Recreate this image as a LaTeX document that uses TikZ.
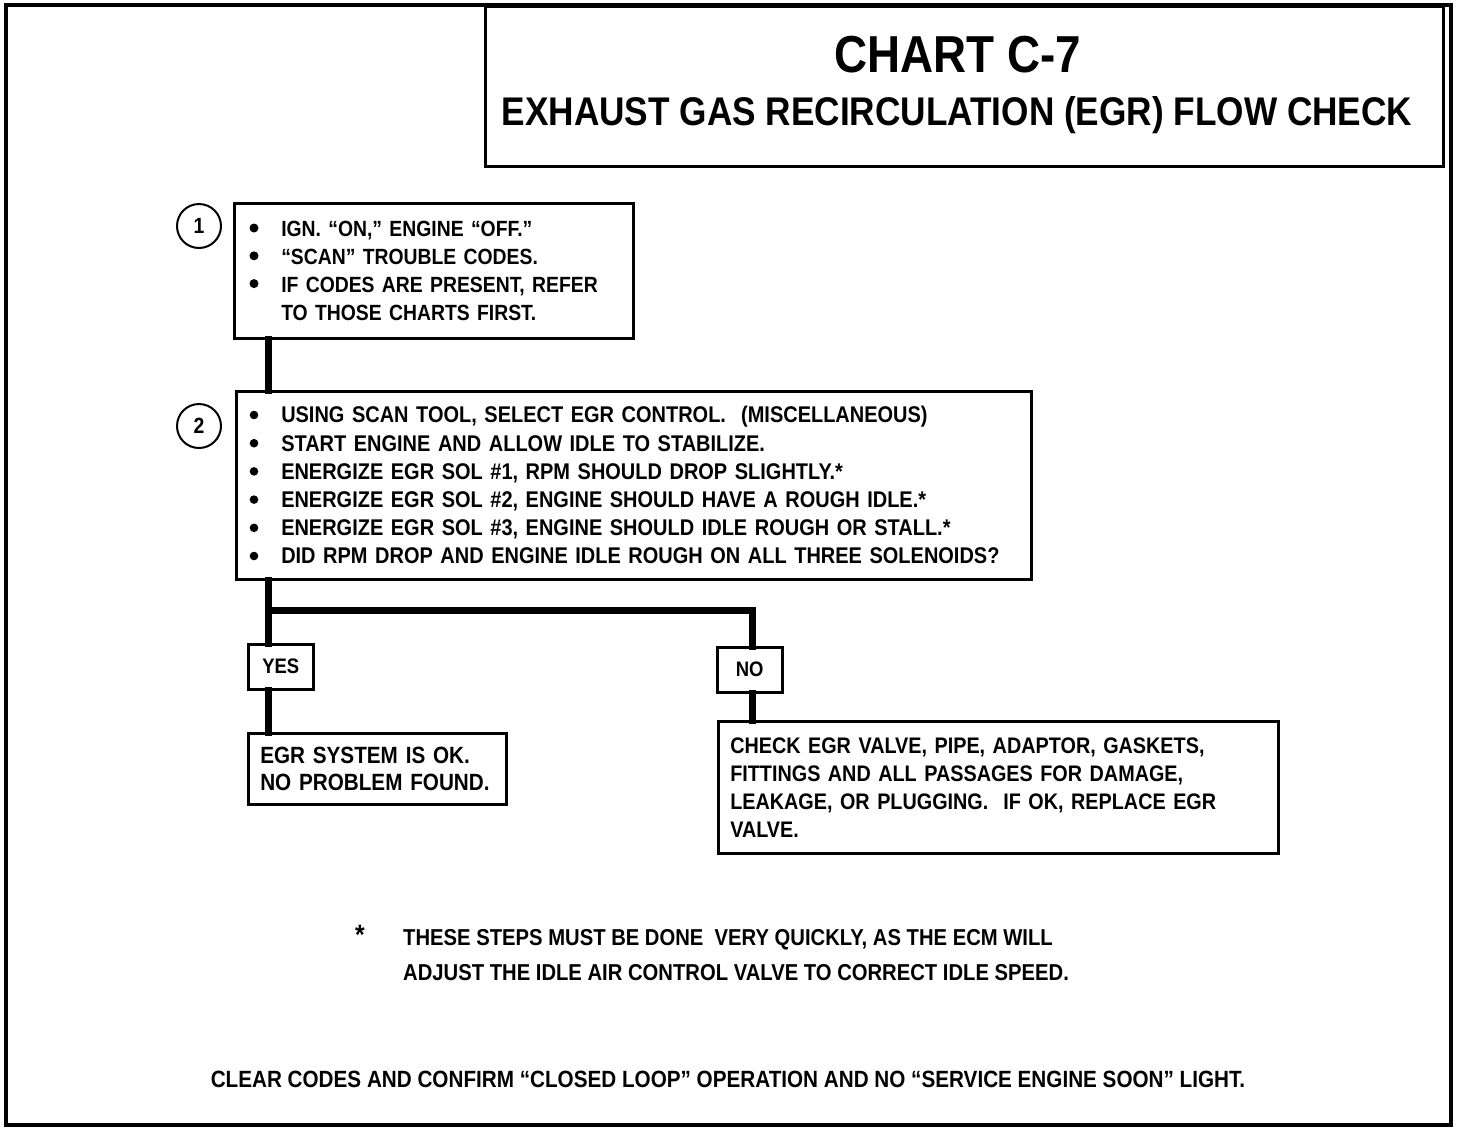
\documentclass[tikz,border=0pt]{standalone}
\usepackage{fontspec}
\setmainfont{Liberation Sans}[FakeStretch=0.88]
\begin{document}
\begin{tikzpicture}[x=1pt,y=-1pt,
  frame/.style={line width=4.5pt},
  tbox/.style={draw, line width=2.5pt},
  box/.style={draw, line width=2.5pt, anchor=north west, align=left, inner ysep=0pt,
    font=\bfseries\fontsize{22}{27.8}\selectfont},
  ans/.style={draw, line width=2.5pt, anchor=north west, minimum width=65pt, minimum height=45pt,
    inner sep=0pt, font=\bfseries\fontsize{21}{24}\selectfont},
  num/.style={draw, circle, line width=2pt, minimum size=44pt, inner sep=0pt,
    font=\bfseries\fontsize{22}{24}\selectfont},
  dot/.style={fill=black},
  conn/.style={line width=7pt, line join=miter, line cap=rect}]
\useasboundingbox (0,0) rectangle (1472,1130);
\newcommand{\bul}{\hspace*{32pt}}
\newcommand{\bulb}{\hspace*{31pt}}
% outer frame
\draw[frame] (6,5) rectangle (1451,1125);
% title box
\node[tbox, anchor=north west, minimum width=958pt, minimum height=160pt, inner sep=0pt] (title) at (484,5) {};
\node[font=\bfseries\fontsize{52}{56}\selectfont] (t1) at (958,55) {CHART C-7};
\node[font=\bfseries\fontsize{40}{44}\selectfont] (t2) at (957,115) {EXHAUST GAS RECIRCULATION (EGR) FLOW CHECK};
% step circles
\node[num] (n1) at (199,226) {1};
\node[num] (n2) at (199,426) {2};
% boxes
\node[box, minimum width=399pt, minimum height=135pt, text width=369pt, inner xsep=15pt] (b1) at (233,202)
 {\bul IGN. “ON,” ENGINE “OFF.”\\
  \bul “SCAN” TROUBLE CODES.\\
  \bul IF CODES ARE PRESENT, REFER\\
  \bul TO THOSE CHARTS FIRST.};
\node[box, minimum width=795pt, minimum height=188pt, text width=767pt, inner xsep=14pt,
  font=\bfseries\fontsize{22.7}{28.2}\selectfont] (b2) at (235,390)
 {\bulb USING SCAN TOOL, SELECT EGR CONTROL.\ \ (MISCELLANEOUS)\\
  \bulb START ENGINE AND ALLOW IDLE TO STABILIZE.\\
  \bulb ENERGIZE EGR SOL \#1, RPM SHOULD DROP SLIGHTLY.*\\
  \bulb ENERGIZE EGR SOL \#2, ENGINE SHOULD HAVE A ROUGH IDLE.*\\
  \bulb ENERGIZE EGR SOL \#3, ENGINE SHOULD IDLE ROUGH OR STALL.*\\
  \bulb DID RPM DROP AND ENGINE IDLE ROUGH ON ALL THREE SOLENOIDS?};
% bullets
\foreach \yy in {228,255.8,283.6} \fill[dot] (254,\yy) circle (4.5pt);
\foreach \yy in {415,443.2,471.4,499.6,527.8,556} \fill[dot] (254,\yy) circle (4.3pt);
\node[ans] (yes) at (247,643) {YES};
\node[ans] (no) at (716,646) {NO};
\node[box, minimum width=258pt, minimum height=71pt, text width=234pt, inner xsep=12pt,
  font=\bfseries\fontsize{23.5}{27}\selectfont] (egr) at (247,732)
 {EGR SYSTEM IS OK.\\ NO PROBLEM FOUND.};
\node[box, minimum width=560pt, minimum height=132pt, text width=536pt, inner xsep=12pt,
  font=\bfseries\fontsize{22.5}{28}\selectfont] (chk) at (717,720)
 {CHECK EGR VALVE, PIPE, ADAPTOR, GASKETS,\\
  FITTINGS AND ALL PASSAGES FOR DAMAGE,\\
  LEAKAGE, OR PLUGGING.\ \ IF OK, REPLACE EGR\\
  VALVE.};
% connectors
\coordinate (j) at (268,610);
\draw[conn] ([xshift=35pt]b1.south west) -- ([xshift=33pt]b2.north west);
\draw[conn] ([xshift=33pt]b2.south west) -- ([xshift=21pt]yes.north west);
\draw[conn] (j) -| ([xshift=36pt]no.north west);
\draw[conn] ([xshift=21pt]yes.south west) -- ([xshift=21pt]egr.north west);
\draw[conn] ([xshift=36pt]no.south west) -- ([xshift=35pt]chk.north west);
% footnote
\node[font=\bfseries\fontsize{28}{28}\selectfont] (ast) at (360,935) {*};
\node[anchor=west, inner sep=0pt, font=\bfseries\fontsize{23}{24}\selectfont] (f1) at (403,940)
 {THESE STEPS MUST BE DONE\ \ VERY QUICKLY, AS THE ECM WILL};
\node[anchor=west, inner sep=0pt, font=\bfseries\fontsize{23}{24}\selectfont] (f2) at (403,973)
 {ADJUST THE IDLE AIR CONTROL VALVE TO CORRECT IDLE SPEED.};
\node[font=\bfseries\fontsize{23.5}{24}\selectfont] (clr) at (728,1079)
 {CLEAR CODES AND CONFIRM “CLOSED LOOP” OPERATION AND NO “SERVICE ENGINE SOON” LIGHT.};
\end{tikzpicture}
\end{document}
